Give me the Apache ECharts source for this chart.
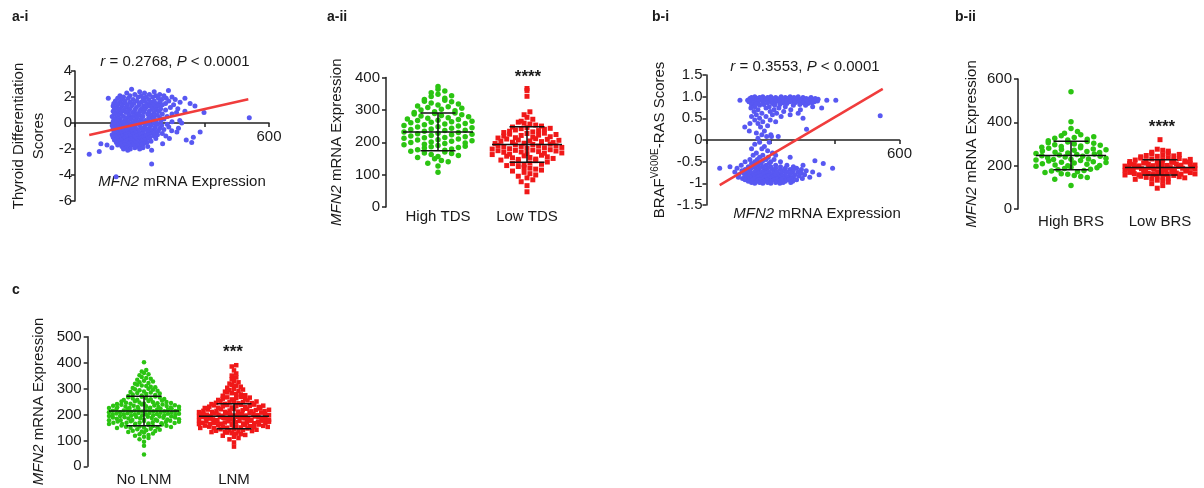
<!DOCTYPE html>
<html>
<head>
<meta charset="utf-8">
<script src="https://cdn.jsdelivr.net/npm/echarts@6/dist/echarts.min.js"></script>
<style>
  html, body { margin: 0; padding: 0; background: #fff; }
  #main { width: 1204px; height: 488px; }
</style>
</head>
<body>
<div id="main"></div>
<script>
// ---- a-i : MFN2 vs thyroid differentiation score, rows of [y, [x...]]
var aiRows = [
  [2.6, [175]], [2.5, [289]], [2.4, [200, 245]], [2.3, [160, 215]], [2.2, [185, 230, 262]],
  [2.1, [139, 170, 205, 250, 275]], [2.0, [150, 195, 220, 240, 300]], [1.9, [103, 132, 165, 210, 258, 282, 340]],
  [1.8, [145, 180, 228, 268, 310]], [1.7, [125, 155, 192, 215, 245, 290]], [1.6, [138, 170, 205, 235, 262, 325]],
  [1.5, [120, 150, 182, 222, 250, 280, 356]], [1.4, [132, 162, 198, 240, 270, 305]], [1.3, [118, 145, 175, 212, 230, 258, 371]],
  [1.2, [128, 158, 190, 220, 248, 295]], [1.1, [122, 140, 170, 205, 238, 265, 318]], [1.0, [135, 152, 185, 215, 252, 280]],
  [0.9, [118, 145, 165, 200, 230, 260, 340]], [0.8, [130, 158, 178, 212, 245, 314, 399]], [0.7, [122, 142, 190, 225, 270, 300]],
  [0.6, [135, 168, 200, 235, 255]], [0.5, [115, 150, 180, 210, 245, 285]], [0.4, [128, 160, 192, 228, 262, 539]],
  [0.3, [120, 140, 172, 205, 240, 275]], [0.2, [132, 155, 185, 218, 250, 324]], [0.1, [118, 145, 165, 198, 230, 265, 300]],
  [0.0, [128, 150, 178, 210, 245, 330]], [-0.1, [122, 138, 160, 188, 222, 255, 285]], [-0.2, [115, 132, 150, 172, 200, 235, 268]],
  [-0.3, [125, 142, 165, 185, 215, 248, 290]], [-0.4, [118, 135, 155, 178, 205, 230, 262, 320]], [-0.5, [128, 148, 170, 192, 220, 245, 275]],
  [-0.6, [120, 138, 160, 182, 210, 235, 258, 299]], [-0.7, [130, 150, 172, 198, 225, 250, 315, 387]], [-0.8, [122, 142, 165, 188, 212, 240, 270]],
  [-0.9, [115, 135, 155, 178, 200, 228, 255]], [-1.0, [125, 145, 168, 190, 218, 245, 281]], [-1.1, [118, 138, 158, 182, 208, 232, 366]],
  [-1.2, [130, 150, 172, 198, 225, 250, 292]], [-1.3, [122, 142, 165, 188, 215, 344]], [-1.4, [135, 158, 180, 205, 235]],
  [-1.5, [128, 150, 172, 195, 222, 361]], [-1.6, [80, 140, 165, 188, 212, 271]], [-1.7, [99, 132, 155, 180, 205]],
  [-1.8, [145, 170, 195, 225]], [-1.9, [114, 160, 185, 210]], [-2.0, [150, 171, 200]], [-2.1, [163, 237]],
  [-2.2, [75]], [-2.4, [44]], [-3.15, [237]], [-4.13, [127]]
];
var aiFit = [[44, -0.92], [536, 1.82]];

// ---- a-ii : High / Low TDS
var tdsCats = ['High TDS', 'Low TDS'];
var highTDS = [107, 127, 135, 140, 144, 149, 153, 156, 159, 162, 165, 167, 170, 172, 175, 177, 179, 182, 184, 186,
  188, 190, 192, 194, 196, 198, 199, 201, 203, 205, 207, 208, 210, 212, 214, 215, 217, 219, 221, 223,
  225, 226, 228, 230, 232, 234, 236, 237, 239, 241, 243, 245, 247, 248, 250, 252, 254, 256, 258, 260,
  262, 263, 265, 267, 268, 270, 272, 274, 276, 279, 281, 283, 285, 287, 289, 290, 292, 294, 297, 300,
  302, 305, 307, 310, 312, 315, 318, 321, 325, 327, 330, 332, 336, 341, 344, 348, 353, 358, 364, 372];
var lowTDS = [47, 66, 78, 84, 90, 95, 99, 103, 107, 111, 114, 117, 120, 122, 125, 128, 130, 132, 134, 136,
  139, 141, 143, 145, 147, 148, 150, 152, 153, 155, 157, 158, 160, 162, 163, 165, 166, 167, 169, 170,
  171, 173, 174, 175, 176, 177, 179, 180, 181, 183, 184, 185, 187, 188, 189, 190, 192, 193, 194, 196,
  197, 199, 200, 202, 203, 204, 206, 207, 209, 210, 211, 213, 214, 216, 217, 219, 221, 222, 224, 225,
  227, 228, 230, 232, 234, 236, 238, 240, 242, 243, 245, 247, 250, 253, 256, 259, 262, 265, 271, 277,
  285, 294, 342, 360, 366];
var tdsStats = [[232, 58], [193, 55]]; // mean, SD

// ---- b-i : MFN2 vs BRAF-RAS score, rows of [y, [x...]]
var biRows = [
  [1.0, [150, 175, 200, 232, 260, 285]], [0.98, [140, 165, 190, 215, 245, 272, 300, 325]],
  [0.96, [135, 158, 180, 205, 228, 252, 278, 310, 338]], [0.94, [145, 170, 195, 220, 240, 265, 290, 318, 347]],
  [0.92, [104, 128, 152, 185, 210, 235, 258, 282, 305, 330, 374, 402]], [0.9, [140, 162, 200, 225, 248, 270, 295, 322, 345]],
  [0.88, [132, 175, 215, 260, 288, 312, 335]], [0.86, [145, 190, 238, 275, 300, 328]], [0.84, [155, 205, 250, 315]],
  [0.82, [140, 178, 228, 290]], [0.8, [165, 212, 270, 308]], [0.77, [150, 195, 245, 330]], [0.74, [138, 185, 225, 358]],
  [0.7, [160, 210, 262, 292]], [0.66, [148, 198, 240]], [0.62, [172, 218, 285]], [0.58, [155, 205, 260]],
  [0.56, [540]], [0.54, [140, 185, 232]], [0.5, [165, 300]], [0.46, [150, 198]], [0.42, [175, 215]],
  [0.38, [135, 160]], [0.33, [190]], [0.3, [119, 168]], [0.25, [311]], [0.21, [133, 180]], [0.16, [155]],
  [0.12, [172, 200]], [0.08, [187, 202, 223]], [0.04, [160]],
  [-0.05, [165, 195]], [-0.1, [150]], [-0.15, [180]], [-0.2, [140, 172]], [-0.25, [190]], [-0.3, [155, 205]],
  [-0.35, [145, 175, 215]], [-0.4, [165, 192, 260]], [-0.45, [135, 158, 185, 210]], [-0.48, [175, 337]],
  [-0.5, [120, 150, 200, 230]], [-0.54, [140, 170, 195, 363]], [-0.58, [108, 160, 185, 215, 250, 300]],
  [-0.62, [73, 130, 150, 175, 200, 230, 270]], [-0.65, [41, 95, 140, 165, 190, 215, 245, 280, 392]],
  [-0.68, [120, 155, 180, 205, 230, 260, 295]], [-0.71, [110, 135, 160, 185, 210, 240, 270, 310]],
  [-0.74, [88, 125, 150, 172, 195, 220, 250, 285, 330]], [-0.77, [115, 140, 162, 185, 208, 232, 262, 295]],
  [-0.8, [100, 130, 152, 175, 198, 222, 245, 275, 305, 350]], [-0.83, [120, 145, 168, 190, 212, 235, 258, 288]],
  [-0.86, [99, 135, 158, 180, 202, 225, 250, 270, 321]], [-0.89, [112, 128, 150, 172, 195, 218, 240, 265, 298]],
  [-0.92, [120, 142, 165, 188, 210, 232, 255, 280]], [-0.95, [130, 155, 178, 200, 222, 245, 268]],
  [-0.98, [140, 165, 190, 215, 238, 262]], [-1.0, [150, 175, 200, 228]]
];
var biFit = [[41, -1.04], [548, 1.18]];

// ---- b-ii : High / Low BRS
var brsCats = ['High BRS', 'Low BRS'];
var highBRS = [108, 137, 145, 150, 155, 160, 163, 168, 172, 175, 178, 181, 184, 187, 190, 193, 197, 200, 201, 203,
  206, 209, 212, 215, 216, 218, 221, 224, 226, 228, 230, 231, 234, 237, 240, 243, 244, 246, 249, 252,
  254, 256, 259, 261, 262, 265, 268, 271, 274, 275, 277, 280, 283, 285, 288, 291, 294, 297, 300, 303,
  306, 309, 312, 315, 318, 322, 326, 330, 334, 338, 343, 350, 358, 372, 403, 541];
var lowBRS = [96, 108, 117, 124, 129, 133, 137, 140, 142, 144, 146, 148, 149, 151, 153, 155,
  157, 158, 159, 160, 161, 162, 163, 164, 165, 166, 168, 169, 170, 171, 173, 175,
  178, 179, 180, 181, 182, 183, 184, 185, 186, 187, 188, 189, 190, 191, 192, 193, 194, 196,
  198, 199, 200, 201, 202, 203, 205, 206, 207, 208, 209, 210, 212, 213, 215, 217,
  219, 220, 222, 223, 225, 226, 228, 229, 231, 233, 235, 237,
  241, 243, 245, 247, 250, 252, 255, 258, 262, 267, 271, 276, 320];
var brsStats = [[247, 66], [192, 35]];

// ---- c : No LNM / LNM
var lnmCats = ['No LNM', 'LNM'];
var noLNM = [46, 79, 95, 104, 109, 114, 118, 121, 124, 127, 130, 132, 134, 136, 137, 139, 141, 143, 145,
  148, 149, 150, 151, 152, 153, 154, 155, 156, 157, 158, 159, 161,
  163, 163, 164, 165, 166, 167, 168, 168, 169, 170, 171, 172, 173, 174, 175, 176, 176,
  178, 178, 179, 180, 181, 181, 182, 183, 184, 185, 186, 187, 188, 188, 189, 190, 191, 192, 192,
  194, 194, 195, 196, 197, 197, 198, 199, 200, 200, 201, 202, 203, 203, 204, 205, 206, 206, 207, 207,
  209, 209, 210, 211, 212, 212, 213, 214, 215, 215, 216, 217, 218, 218, 219, 220, 221, 221, 222, 223,
  225, 225, 226, 227, 228, 229, 229, 230, 231, 232, 233, 234, 234, 235, 236, 237, 238, 238,
  240, 241, 242, 243, 244, 245, 246, 247, 248, 250, 251, 252, 254,
  256, 257, 259, 260, 262, 263, 265, 266, 268, 269, 271, 273, 275, 277, 279, 281, 283, 285,
  287, 289, 291, 293, 295, 297, 299, 302, 305, 307, 310, 312, 315, 318, 321, 324, 327, 330,
  334, 338, 341, 345, 351, 355, 360, 366, 372, 401];
var lnm = [76, 92, 104, 109, 114, 118, 121, 124, 126, 128, 130, 132, 133, 135, 136, 137, 139, 140, 141, 143, 144, 146,
  148, 148, 149, 150, 151, 152, 153, 153, 154, 155, 156, 157, 158, 159, 160, 161,
  163, 163, 164, 165, 165, 166, 167, 168, 168, 169, 170, 170, 171, 172, 173, 173, 174, 175, 176, 176,
  178, 178, 179, 180, 180, 181, 182, 182, 183, 184, 185, 185, 186, 187, 187, 188, 189, 190, 190, 191, 192,
  194, 194, 195, 196, 196, 197, 198, 199, 199, 200, 201, 202, 202, 203, 204, 205, 206, 206, 207,
  209, 210, 210, 211, 212, 213, 214, 214, 215, 216, 217, 218, 219, 220, 221, 222, 223,
  225, 226, 227, 228, 229, 230, 231, 232, 233, 234, 235, 236, 237, 238,
  240, 241, 243, 244, 245, 247, 248, 250, 251, 252, 254, 256, 258, 260, 261, 263, 265, 266, 268,
  272, 274, 277, 279, 282, 285, 288, 291, 294, 296, 299, 303, 307, 311, 314, 319, 324, 329,
  336, 343, 350, 358, 370, 385, 390];
var lnmStats = [[213, 57], [193, 48]];

var FONT = '"Liberation Sans", Arial, sans-serif';
var TXT = '#1a1a1a';
var BLUE = '#5858f2', LINE_RED = '#f03c3c', GREEN = '#2bc412', RED = '#f01818';
var AXL = { color: '#222', width: 1.5 };
var RICH = {
  i: { fontStyle: 'italic', fontSize: 15, fontFamily: FONT, color: TXT, lineHeight: 18 },
  n: { fontSize: 15, fontFamily: FONT, color: TXT, lineHeight: 18 },
  s: { fontSize: 10, fontFamily: FONT, color: TXT, lineHeight: 18, verticalAlign: 'top' }
};
var MFN2 = '{i|MFN2}{n| mRNA Expression}';

function rowsToPoints(rows) {
  var pts = [];
  rows.forEach(function (r) { r[1].forEach(function (x) { pts.push([x, r[0]]); }); });
  return pts;
}

function coprime(n) {
  var ks = [3, 5, 7, 2, 1];
  for (var i = 0; i < ks.length; i++) {
    var a = n, b = ks[i];
    while (b) { var t = a % b; a = b; b = t; }
    if (a === 1) return ks[i];
  }
  return 1;
}

// binned scatter-dot layout (rows of points side by side, squeezed to maxHalf)
function swarm(values, cat, pxPerX, pxPerY, rowPx, stepPx, maxHalf) {
  var bins = {};
  values.forEach(function (v) {
    var b = Math.round(v * pxPerY / rowPx);
    (bins[b] = bins[b] || []).push(v);
  });
  var out = [];
  Object.keys(bins).forEach(function (key) {
    var row = bins[key].sort(function (a, b) { return a - b; });
    var n = row.length;
    var step = n > 1 ? Math.min(stepPx, 2 * maxHalf / (n - 1)) : 0;
    var k = coprime(n);
    row.forEach(function (v, i) {
      var slot = ((i * k) % n) - (n - 1) / 2;
      out.push([cat + slot * step / pxPerX, v]);
    });
  });
  return out;
}

function yAxis(grid, min, max, interval, name, gap, margin, fmt) {
  return {
    gridIndex: grid, type: 'value', min: min, max: max, interval: interval,
    splitLine: { show: false },
    axisLine: { show: true, onZero: false, lineStyle: AXL },
    axisTick: { show: true, length: 4, lineStyle: AXL },
    axisLabel: { color: TXT, fontSize: 15, fontFamily: FONT, margin: margin, formatter: fmt },
    name: name, nameLocation: 'middle', nameGap: gap, nameRotate: 90,
    nameTextStyle: { color: TXT, fontSize: 15, fontFamily: FONT, lineHeight: 20, rich: RICH }
  };
}

// x axis drawn on the y = 0 line (offset up from the grid bottom)
function scatterXAxis(grid, offset, gap, shift) {
  return {
    gridIndex: grid, type: 'value', min: 0, max: 600, interval: 200, offset: offset,
    splitLine: { show: false },
    axisLine: { show: true, onZero: false, lineStyle: AXL },
    axisTick: { show: true, length: 4, lineStyle: AXL },
    axisLabel: { color: TXT, fontSize: 15, fontFamily: FONT, margin: 6, showMaxLabel: true,
      formatter: function (v) { return v === 600 ? '600' : ''; } },
    name: MFN2, nameLocation: 'middle', nameGap: gap,
    nameTextStyle: { color: TXT, fontSize: 15, fontFamily: FONT, rich: RICH, padding: [0, 0, 0, shift] }
  };
}

// swarm panels: layout in px
var panels = [
  { grid: 1, left: 386, top: 77.5, width: 185, height: 129.5, yMax: 400, yInt: 100, first: 52, step: 89,
    cats: tdsCats, groups: [highTDS, lowTDS], stats: tdsStats, nameGap: 40, labelMargin: 2,
    dot: [5.5, 5], row: [6.5, 5.5], gap: [6.8, 5.8] },
  { grid: 3, left: 1018, top: 79, width: 179, height: 130, yMax: 600, yInt: 200, first: 53, step: 89,
    cats: brsCats, groups: [highBRS, lowBRS], stats: brsStats, nameGap: 37, labelMargin: 5,
    dot: [5.5, 5], row: [6.5, 4.5], gap: [6.5, 5.5] },
  { grid: 4, left: 87.7, top: 336.7, width: 191, height: 129.6, yMax: 500, yInt: 100, first: 56.3, step: 90,
    cats: lnmCats, groups: [noLNM, lnm], stats: lnmStats, nameGap: 40, labelMargin: 6,
    dot: [4.5, 4.5], row: [4, 4], gap: [4.5, 4.5] }
];

var grids = [
  { left: 75, top: 71, width: 194, height: 130 },
  null,
  { left: 706.5, top: 75, width: 193, height: 130 },
  null, null
];
var xAxes = [], yAxes = [], series = [];

// a-i (zero line 78 px above the grid bottom)
xAxes[0] = scatterXAxis(0, -78, 50, 20);
yAxes[0] = yAxis(0, -6, 4, 2, 'Thyroid Differentiation\nScores', 26, 3);
series.push({ type: 'scatter', xAxisIndex: 0, yAxisIndex: 0, data: rowsToPoints(aiRows), symbolSize: 5,
  itemStyle: { color: BLUE, opacity: 1 }, z: 2 });
series.push({ type: 'line', xAxisIndex: 0, yAxisIndex: 0, data: aiFit, symbol: 'none',
  lineStyle: { color: LINE_RED, width: 2.5 }, z: 3 });

// b-i (zero line 65 px above the grid bottom)
xAxes[2] = scatterXAxis(2, -65, 65, 28);
yAxes[2] = yAxis(2, -1.5, 1.5, 0.5, '{n|BRAF}{s|V600E}{n|-RAS Scores}', 38, 4,
  function (v) { return v === 1 ? '1.0' : String(v); });
series.push({ type: 'scatter', xAxisIndex: 2, yAxisIndex: 2, data: rowsToPoints(biRows), symbolSize: 5,
  itemStyle: { color: BLUE, opacity: 1 }, z: 2 });
series.push({ type: 'line', xAxisIndex: 2, yAxisIndex: 2, data: biFit, symbol: 'none',
  lineStyle: { color: LINE_RED, width: 2.5 }, z: 3 });

panels.forEach(function (p) {
  var xMin = 1 - p.first / p.step;
  var xMax = xMin + p.width / p.step;
  grids[p.grid] = { left: p.left, top: p.top, width: p.width, height: p.height };
  xAxes[p.grid] = {
    gridIndex: p.grid, type: 'value', min: xMin, max: xMax,
    splitLine: { show: false }, axisLine: { show: false }, axisTick: { show: false },
    axisLabel: { customValues: [1, 2], color: TXT, fontSize: 15, fontFamily: FONT, margin: p.labelMargin,
      formatter: function (v) { return p.cats[Math.round(v) - 1] || ''; } }
  };
  yAxes[p.grid] = yAxis(p.grid, 0, p.yMax, p.yInt, MFN2, p.nameGap, 6);
  var pxX = p.step, pxY = p.height / p.yMax;
  p.groups.forEach(function (vals, gi) {
    series.push({
      type: 'scatter', xAxisIndex: p.grid, yAxisIndex: p.grid,
      data: swarm(vals, gi + 1, pxX, pxY, p.row[gi], p.gap[gi], 35),
      symbol: gi === 0 ? 'circle' : 'rect', symbolSize: p.dot[gi],
      itemStyle: { color: gi === 0 ? GREEN : RED, opacity: 1 }, z: 2
    });
  });
  series.push({
    type: 'custom', xAxisIndex: p.grid, yAxisIndex: p.grid, z: 5,
    data: p.stats.map(function (s, i) { return [i + 1, s[0], s[1]]; }),
    renderItem: function (params, api) {
      var x = api.value(0), m = api.value(1), sd = api.value(2);
      var pm = api.coord([x, m]), pt = api.coord([x, m + sd]), pb = api.coord([x, m - sd]);
      var st = { stroke: '#111', lineWidth: 1.5 };
      return { type: 'group', children: [
        { type: 'line', shape: { x1: pm[0] - 35, y1: pm[1], x2: pm[0] + 35, y2: pm[1] }, style: st },
        { type: 'line', shape: { x1: pt[0], y1: pt[1], x2: pb[0], y2: pb[1] }, style: st },
        { type: 'line', shape: { x1: pt[0] - 17.5, y1: pt[1], x2: pt[0] + 17.5, y2: pt[1] }, style: st },
        { type: 'line', shape: { x1: pb[0] - 17.5, y1: pb[1], x2: pb[0] + 17.5, y2: pb[1] }, style: st }
      ] };
    }
  });
});

grids.forEach(function (g) { g.containLabel = false; g.outerBoundsMode = 'none'; });

function txt(x, y, text, size, bold, align) {
  return { type: 'text', x: x, y: y, z: 10, style: {
    text: text, fill: TXT, align: align || 'left', verticalAlign: 'middle',
    fontSize: size, fontWeight: bold ? 'bold' : 'normal', fontFamily: FONT, rich: RICH } };
}

var option = {
  animation: false,
  backgroundColor: '#fff',
  textStyle: { fontFamily: FONT },
  grid: grids, xAxis: xAxes, yAxis: yAxes, series: series,
  graphic: [
    txt(12, 17, 'a-i', 14, true), txt(327, 17, 'a-ii', 14, true), txt(652, 17, 'b-i', 14, true),
    txt(955, 17, 'b-ii', 14, true), txt(12, 290, 'c', 14, true),
    txt(175, 62, '{i|r}{n| = 0.2768, }{i|P}{n| < 0.0001}', 15, false, 'center'),
    txt(805, 67, '{i|r}{n| = 0.3553, }{i|P}{n| < 0.0001}', 15, false, 'center'),
    txt(528, 77, '****', 17, true, 'center'),
    txt(1162, 127, '****', 17, true, 'center'),
    txt(233, 352, '***', 17, true, 'center')
  ]
};

var chart = echarts.init(document.getElementById('main'));
chart.setOption(option);
</script>
</body>
</html>
